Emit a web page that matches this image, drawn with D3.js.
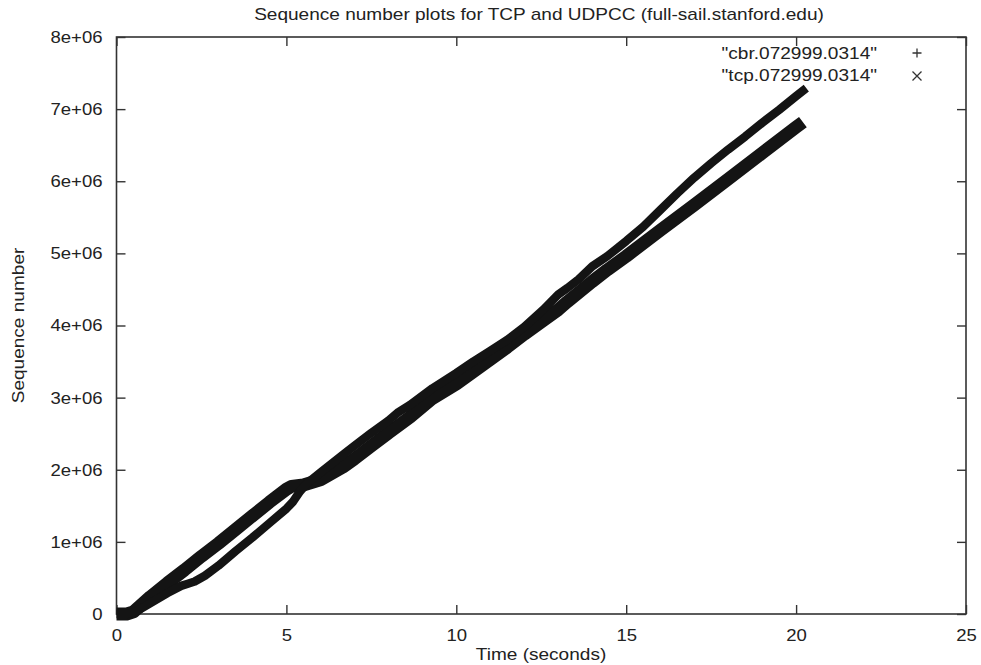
<!DOCTYPE html>
<html>
<head>
<meta charset="utf-8">
<script src="https://cdn.jsdelivr.net/npm/d3@7"></script>
<style>
  html, body { margin: 0; padding: 0; background: #fff; }
  svg text { font-family: "Liberation Sans", Arial, Helvetica, sans-serif; fill: #222; }
</style>
</head>
<body>
<svg id="chart" width="981" height="665"></svg>
<script>
// Sequence number traces (time in seconds, sequence number)
const cbrTime = [0, 0.3, 0.5, 1, 1.5, 2, 2.5, 3, 3.5, 4, 4.5, 5, 5.15, 5.5, 6, 6.67, 7, 7.5, 8, 8.64, 9.3, 10, 10.5, 11, 11.5, 12, 12.56, 13, 13.27, 14, 14.44, 15, 16, 17, 18, 19, 20, 20.2];
const cbrSeq  = [0, 0, 0.03e6, 0.24e6, 0.43e6, 0.61e6, 0.80e6, 0.98e6, 1.17e6, 1.36e6, 1.55e6, 1.73e6, 1.77e6, 1.79e6, 1.86e6, 2.04e6, 2.15e6, 2.33e6, 2.51e6, 2.73e6, 2.99e6, 3.19e6, 3.36e6, 3.53e6, 3.70e6, 3.88e6, 4.07e6, 4.22e6, 4.33e6, 4.61e6, 4.77e6, 4.96e6, 5.32e6, 5.67e6, 6.03e6, 6.39e6, 6.75e6, 6.82e6];

const tcpTime = [0, 0.3, 0.6, 1, 1.5, 1.9, 2.1, 2.3, 2.6, 3, 3.5, 4, 4.5, 5, 5.2, 5.4, 5.6, 6, 6.67, 7, 7.5, 8, 8.3, 8.64, 9.3, 10, 10.5, 11, 11.5, 12, 12.56, 13, 13.27, 13.6, 14, 14.44, 15, 15.5, 16, 16.5, 17, 17.5, 18, 18.5, 19, 19.5, 20, 20.3];
const tcpSeq  = [0, 0, 0.04e6, 0.15e6, 0.29e6, 0.39e6, 0.42e6, 0.45e6, 0.53e6, 0.67e6, 0.87e6, 1.06e6, 1.26e6, 1.46e6, 1.56e6, 1.70e6, 1.81e6, 1.96e6, 2.21e6, 2.33e6, 2.51e6, 2.68e6, 2.80e6, 2.90e6, 3.13e6, 3.34e6, 3.50e6, 3.65e6, 3.80e6, 3.98e6, 4.22e6, 4.43e6, 4.52e6, 4.64e6, 4.82e6, 4.96e6, 5.17e6, 5.37e6, 5.60e6, 5.83e6, 6.05e6, 6.25e6, 6.44e6, 6.62e6, 6.81e6, 6.99e6, 7.18e6, 7.29e6];

const xTicks = [0, 5, 10, 15, 20, 25];
const yTicks = [0, 1e6, 2e6, 3e6, 4e6, 5e6, 6e6, 7e6, 8e6];
const yTickLabels = ["0", "1e+06", "2e+06", "3e+06", "4e+06", "5e+06", "6e+06", "7e+06", "8e+06"];
const legendLabels = ["\"cbr.072999.0314\"", "\"tcp.072999.0314\""];

const svg = d3.select("#chart");
const margin = { top: 37, right: 15, bottom: 51, left: 116.5 };
const W = 981, H = 665;

const x = d3.scaleLinear().domain([0, 25]).range([margin.left, W - margin.right]);
const y = d3.scaleLinear().domain([0, 8e6]).range([H - margin.bottom, margin.top]);

const ink = "#141414";
const tickLen = 9;

// Plot frame
svg.append("rect")
  .attr("x", x(0)).attr("y", y(8e6))
  .attr("width", x(25) - x(0)).attr("height", y(0) - y(8e6))
  .attr("fill", "none").attr("stroke", "#333").attr("stroke-width", 1.6);

// Axes with inward ticks, mirrored on the opposite sides
const fmtY = d => yTickLabels[yTicks.indexOf(d)];
svg.append("g").attr("transform", `translate(0,${y(0)})`)
  .call(d3.axisBottom(x).tickValues(xTicks).tickSize(-tickLen).tickPadding(tickLen + 6).tickFormat(d3.format("d")))
  .call(g => g.select(".domain").remove());
svg.append("g").attr("transform", `translate(0,${y(8e6)})`)
  .call(d3.axisTop(x).tickValues(xTicks).tickSize(-tickLen).tickFormat(""))
  .call(g => g.select(".domain").remove());
svg.append("g").attr("transform", `translate(${x(0)},0)`)
  .call(d3.axisLeft(y).tickValues(yTicks).tickSize(-tickLen).tickPadding(tickLen + 5).tickFormat(fmtY))
  .call(g => g.select(".domain").remove());
svg.append("g").attr("transform", `translate(${x(25)},0)`)
  .call(d3.axisRight(y).tickValues(yTicks).tickSize(-tickLen).tickFormat(""))
  .call(g => g.select(".domain").remove());

svg.selectAll(".tick line").attr("stroke", "#333").attr("stroke-width", 1.4);
svg.selectAll(".tick text").attr("font-size", 17).attr("fill", "#222")
  .style("font-family", "'Liberation Sans', Arial, sans-serif");

// Titles
svg.append("text").attr("class", "wide").attr("x", 539).attr("y", 20).attr("text-anchor", "middle")
  .attr("font-size", 17).text("Sequence number plots for TCP and UDPCC (full-sail.stanford.edu)");
svg.append("text").attr("class", "wide").attr("x", 541).attr("y", 660).attr("text-anchor", "middle")
  .attr("font-size", 17).text("Time (seconds)");
svg.append("text").attr("class", "wide").attr("transform", `translate(24,${(y(0) + y(8e6)) / 2})rotate(-90)`)
  .attr("text-anchor", "middle").attr("font-size", 17).text("Sequence number");

// Traces: dense marker trails rendered as heavy strokes
const line = d3.line().x(d => x(d[0])).y(d => y(d[1])).curve(d3.curveLinear);
const cbr = cbrTime.map((t, i) => [t, cbrSeq[i]]);
const tcp = tcpTime.map((t, i) => [t, tcpSeq[i]]);

svg.append("path").datum(cbr).attr("d", line)
  .attr("fill", "none").attr("stroke", ink).attr("stroke-width", 13)
  .attr("stroke-linejoin", "round").attr("stroke-linecap", "butt");
svg.append("path").datum(tcp).attr("d", line)
  .attr("fill", "none").attr("stroke", ink).attr("stroke-width", 8.5)
  .attr("stroke-linejoin", "round").attr("stroke-linecap", "butt");

// Legend
const legend = svg.append("g");
legendLabels.forEach((lab, i) => {
  legend.append("text").attr("class", "wide").attr("x", 877).attr("y", 59 + i * 22)
    .attr("text-anchor", "end").attr("font-size", 17).text(lab);
});
const mx = 917, s = 4.5;
legend.append("path").attr("d", `M${mx - s},53H${mx + s}M${mx},${53 - s}V${53 + s}`)
  .attr("stroke", "#333").attr("stroke-width", 1.3);
legend.append("path").attr("d", `M${mx - s},${76 - s}L${mx + s},${76 + s}M${mx - s},${76 + s}L${mx + s},${76 - s}`)
  .attr("stroke", "#333").attr("stroke-width", 1.3);

// Slightly wider letterforms for all labels
svg.selectAll(".tick text, text.wide").each(function () {
  const w = this.getComputedTextLength();
  const k = this.classList.contains("wide") ? 1.12 : 1.09;
  d3.select(this).attr("textLength", w * k).attr("lengthAdjust", "spacingAndGlyphs");
});
</script>
</body>
</html>
